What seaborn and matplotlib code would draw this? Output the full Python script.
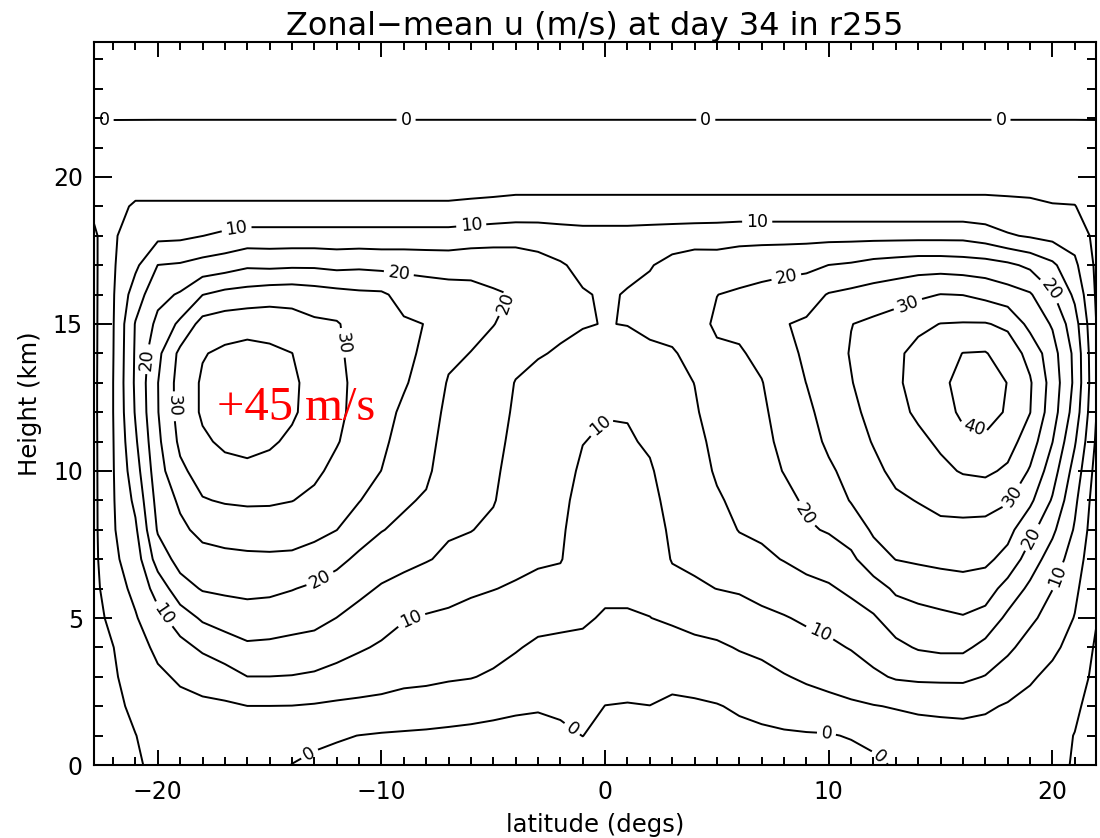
import numpy as np
import matplotlib
matplotlib.use("Agg")
import matplotlib.pyplot as plt
import seaborn as sns

# ---------------- data ----------------
latitudes = [-23, -22, -21, -20, -19, -18, -17, -16, -15, -14, -13, -12, -11, -10, -9, -8,
             -7, -6, -5, -4, -3, -2, -1, 0, 1, 2, 3, 4, 5, 6, 7, 8, 9, 10, 11, 12, 13, 14,
             15, 16, 17, 18, 19, 20, 21, 22]
heights_km = [0, 1, 2, 3, 4, 5, 6, 7, 8, 9, 10, 11, 12, 13, 14, 15, 16, 17, 18, 19, 20,
              21, 22, 23, 24.5]

u_z00 = [-2.0, -2.0, -0.8, 1.5, 2.5, 3.0, 2.5, 2.0, 1.5, -0.1, -1.0, -1.3, -1.5, -1.7, -1.8, -1.9, -2.0, -2.1, -2.2, -2.3, -2.3, -2.0, -2.0, -2.8, -2.8, -2.7, -2.8, -2.6, -2.5, -2.3, -2.1, -2.0, -2.0, -1.9, -1.8, -1.0, 0.5, 1.5, 2.0, 2.0, 2.0, 1.8, 1.5, 1.0, -0.3, -2.5]
u_z01 = [-2.0, -1.8, -0.1, 2.0, 3.0, 3.6, 3.8, 3.5, 3.3, 2.3, 1.1, 0.4, -0.05, -0.4, -0.6, -0.8, -1.0, -1.2, -1.4, -1.5, -1.5, -0.9, 0.05, -1.4, -1.5, -1.3, -1.8, -1.6, -1.2, -1.0, -0.7, -0.5, -0.4, -0.3, 0.3, 1.3, 2.5, 3.0, 3.3, 3.4, 3.4, 3.2, 2.5, 1.8, -0.15, -2.5]
u_z02 = [-2.0, -1.3, 1.1, 2.9, 3.8, 4.1, 4.3, 4.95, 4.95, 4.9, 4.6, 4.2, 4.0, 3.75, 3.3, 3.0, 2.4, 1.9, 1.3, 0.7, 0.4, 0.8, 1.4, -0.05, -0.2, -0.05, -0.8, -0.6, -0.2, 0.5, 1.1, 1.9, 2.9, 3.5, 4.3, 4.8, 5.3, 5.8, 6.0, 6.2, 5.6, 4.6, 3.8, 2.6, 1.0, -2.5]
u_z03 = [-2.0, -0.6, 2.1, 4.2, 5.6, 6.8, 8.0, 9.95, 9.95, 9.8, 9.3, 8.3, 7.4, 6.8, 6.1, 5.9, 5.5, 5.2, 4.4, 3.2, 2.2, 2.5, 2.9, 1.6, 1.4, 1.7, 1.2, 1.6, 2.0, 2.9, 3.5, 4.7, 5.7, 6.6, 7.3, 9.1, 10.5, 10.9, 11.0, 11.0, 9.8, 7.5, 5.5, 4.0, 2.5, -1.5]
u_z04 = [-2.0, -0.1, 3.1, 6.0, 8.5, 10.8, 12.6, 14.2, 14.0, 13.5, 13.1, 11.9, 10.55, 9.4, 8.2, 7.7, 7.4, 7.0, 6.5, 5.4, 4.1, 4.2, 4.3, 3.1, 3.0, 3.3, 3.3, 4.0, 4.3, 5.3, 6.1, 7.3, 8.3, 9.0, 10.3, 12.0, 13.9, 15.4, 16.0, 16.0, 13.6, 11.0, 8.0, 5.8, 3.6, -0.8]
u_z05 = [-2.0, 1.2, 4.6, 8.5, 12.5, 15.7, 17.1, 17.9, 17.6, 17.0, 16.4, 14.95, 13.3, 11.9, 10.3, 9.6, 9.2, 8.7, 8.3, 7.6, 6.6, 5.8, 5.4, 4.7, 4.7, 4.95, 5.6, 6.3, 7.1, 7.9, 8.8, 9.7, 10.7, 11.7, 12.9, 14.5, 17.3, 18.3, 18.9, 19.6, 18.2, 14.0, 11.0, 8.0, 4.8, 0.1]
u_z06 = [-2.0, 2.8, 6.2, 12.0, 18.0, 20.4, 20.9, 21.2, 21.0, 20.2, 19.2, 17.9, 16.2, 14.5, 13.4, 12.4, 11.5, 10.6, 10.1, 9.6, 8.75, 8.1, 6.2, 5.6, 5.6, 5.9, 8.3, 9.4, 10.05, 10.5, 11.7, 12.5, 13.6, 14.4, 16.0, 17.9, 20.8, 21.8, 22.7, 23.3, 22.5, 18.0, 14.0, 10.1, 6.0, 0.5]
u_z07 = [-2.0, 4.0, 7.5, 17.2, 21.8, 23.3, 23.8, 24.1, 24.2, 24.1, 23.0, 21.2, 19.1, 17.4, 16.3, 15.3, 14.2, 13.0, 12.0, 11.0, 10.6, 10.3, 7.0, 6.3, 6.4, 6.8, 10.3, 10.8, 11.5, 12.9, 14.1, 15.2, 16.5, 17.5, 19.0, 22.9, 25.1, 25.7, 26.1, 26.3, 26.0, 23.5, 17.5, 12.7, 7.6, 1.0]
u_z08 = [-2.0, 4.5, 9.2, 20.5, 24.0, 26.3, 27.0, 27.3, 27.4, 27.1, 26.4, 25.05, 22.2, 20.2, 18.9, 17.3, 15.5, 15.15, 14.0, 12.0, 11.0, 10.7, 7.7, 7.1, 7.2, 7.7, 10.9, 11.4, 13.0, 15.2, 15.8, 16.8, 19.4, 20.4, 22.2, 25.7, 27.1, 28.0, 28.5, 28.8, 28.5, 26.5, 21.5, 16.0, 9.5, 1.5]
u_z09 = [-2.0, 4.6, 11.1, 21.8, 25.8, 29.7, 30.4, 30.7, 30.6, 30.1, 29.0, 26.9, 25.2, 22.6, 20.7, 19.4, 16.3, 15.8, 15.3, 12.7, 11.5, 11.1, 8.5, 7.9, 8.0, 8.6, 11.6, 12.6, 14.5, 16.0, 17.1, 18.5, 20.8, 22.3, 25.3, 27.2, 29.2, 30.2, 31.7, 31.7, 31.8, 30.5, 26.0, 19.5, 11.0, 2.0]
u_z10 = [-2.0, 4.7, 12.9, 23.0, 29.0, 32.0, 33.6, 34.0, 33.5, 32.1, 30.9, 28.8, 27.0, 24.95, 21.9, 21.0, 17.1, 16.4, 15.8, 13.3, 12.0, 11.6, 9.3, 8.6, 8.8, 9.5, 12.2, 13.2, 15.5, 16.8, 18.0, 20.2, 21.9, 24.2, 26.6, 28.8, 31.2, 32.1, 33.9, 35.4, 35.9, 34.2, 29.5, 22.3, 13.0, 2.8]
u_z11 = [-2.0, 4.8, 14.3, 24.0, 31.0, 34.3, 35.8, 36.3, 35.6, 34.2, 32.3, 30.3, 28.0, 26.0, 23.1, 21.8, 17.9, 17.0, 16.3, 13.9, 12.5, 12.2, 10.1, 9.4, 9.5, 10.6, 12.9, 13.8, 16.1, 17.4, 18.6, 21.2, 22.9, 25.9, 27.8, 30.3, 32.6, 33.9, 35.8, 38.2, 38.8, 37.0, 32.5, 25.1, 15.5, 3.8]
u_z12 = [-2.0, 4.95, 15.4, 24.8, 32.0, 35.6, 37.2, 38.2, 37.3, 35.6, 33.3, 31.0, 28.6, 26.4, 24.3, 22.6, 18.7, 17.7, 16.8, 14.4, 13.1, 12.9, 11.4, 10.2, 10.3, 11.8, 13.2, 14.6, 16.6, 18.0, 19.1, 22.1, 24.0, 26.8, 28.9, 31.4, 33.6, 35.8, 37.2, 41.3, 42.5, 39.3, 35.1, 27.3, 17.8, 4.6]
u_z13 = [-2.0, 4.95, 15.8, 24.9, 32.0, 35.6, 37.3, 38.3, 37.5, 35.8, 33.4, 31.1, 28.8, 26.8, 25.4, 23.4, 19.6, 18.6, 17.6, 14.8, 13.8, 13.7, 12.7, 12.0, 12.1, 13.0, 13.8, 15.05, 17.8, 18.7, 19.8, 22.9, 25.05, 27.5, 29.8, 32.2, 34.2, 36.8, 38.3, 42.5, 43.8, 39.8, 35.5, 28.0, 19.0, 5.1]
u_z14 = [-2.0, 4.8, 15.6, 23.8, 31.2, 34.7, 35.9, 36.5, 36.0, 35.05, 32.5, 30.7, 28.6, 27.0, 26.0, 24.2, 21.0, 19.9, 18.8, 16.5, 15.3, 14.6, 14.0, 13.4, 13.6, 14.3, 14.5, 16.6, 19.3, 19.5, 21.2, 23.7, 25.7, 27.8, 30.3, 32.5, 34.2, 36.3, 38.0, 40.1, 40.3, 37.6, 33.5, 27.0, 18.8, 4.8]
u_z15 = [-2.0, 4.7, 15.3, 21.2, 26.0, 31.8, 32.8, 33.3, 33.0, 32.1, 30.8, 30.4, 28.0, 26.6, 25.6, 24.9, 22.8, 21.3, 20.1, 18.8, 17.0, 15.8, 15.2, 14.9, 15.1, 15.8, 16.8, 18.6, 20.6, 21.1, 22.8, 24.8, 25.6, 27.2, 29.9, 31.0, 32.2, 34.0, 35.1, 35.3, 35.3, 34.1, 28.5, 24.5, 17.0, 4.5]
u_z16 = [-2.0, 4.6, 12.5, 18.6, 20.5, 24.9, 26.5, 27.1, 27.9, 28.1, 27.4, 26.7, 26.0, 25.8, 23.3, 22.6, 22.0, 21.4, 20.5, 19.8, 17.8, 16.0, 15.3, 14.6, 15.2, 16.2, 17.8, 19.6, 19.95, 20.7, 21.5, 22.5, 23.1, 25.3, 26.2, 27.1, 28.0, 29.1, 30.1, 29.9, 28.7, 27.1, 25.5, 20.5, 14.0, 4.0]
u_z17 = [-2.0, 4.5, 9.0, 15.05, 15.5, 16.8, 17.7, 19.2, 18.9, 19.2, 19.2, 18.6, 19.0, 18.6, 18.6, 18.3, 18.1, 18.5, 18.2, 17.6, 16.5, 15.4, 14.0, 13.8, 14.3, 14.7, 16.4, 17.4, 17.1, 17.5, 18.0, 18.3, 18.8, 20.05, 20.6, 21.7, 22.3, 22.9, 22.9, 22.5, 22.1, 21.0, 19.0, 16.0, 11.0, 3.8]
u_z18 = [-2.0, 4.5, 7.0, 8.8, 9.0, 9.95, 11.0, 11.9, 11.9, 11.9, 11.9, 11.9, 11.9, 11.9, 11.9, 11.9, 11.9, 12.4, 12.9, 13.3, 13.2, 12.5, 12.0, 12.0, 12.0, 12.3, 12.6, 12.9, 13.1, 13.6, 13.6, 13.6, 13.6, 13.6, 13.6, 13.6, 13.6, 13.6, 13.6, 13.6, 12.5, 10.5, 9.5, 8.5, 8.0, 3.5]
u_z19 = [0.5, 4.0, 5.4, 5.4, 5.4, 5.4, 5.4, 5.4, 5.4, 5.4, 5.4, 5.4, 5.4, 5.4, 5.4, 5.4, 5.4, 5.6, 5.8, 6.1, 6.1, 6.1, 6.1, 6.1, 6.1, 6.1, 6.1, 6.1, 6.1, 6.1, 6.1, 6.1, 6.1, 6.1, 6.1, 6.1, 6.1, 6.1, 6.1, 6.1, 6.1, 5.9, 5.7, 5.2, 5.1, 3.3]
u_z20 = [2.0, 3.0, 3.3, 3.3, 3.3, 3.3, 3.3, 3.3, 3.3, 3.3, 3.3, 3.3, 3.3, 3.3, 3.3, 3.3, 3.3, 3.3, 3.3, 3.3, 3.3, 3.3, 3.3, 3.3, 3.3, 3.3, 3.3, 3.3, 3.3, 3.3, 3.3, 3.3, 3.3, 3.3, 3.3, 3.3, 3.3, 3.3, 3.3, 3.3, 3.3, 3.3, 3.3, 3.3, 3.3, 2.8]
u_z21 = [1.5, 1.5, 1.6, 1.7, 1.7, 1.7, 1.7, 1.7, 1.7, 1.7, 1.7, 1.7, 1.7, 1.7, 1.7, 1.7, 1.7, 1.7, 1.7, 1.7, 1.7, 1.7, 1.7, 1.7, 1.7, 1.7, 1.7, 1.7, 1.7, 1.7, 1.7, 1.7, 1.7, 1.7, 1.7, 1.7, 1.7, 1.7, 1.7, 1.7, 1.7, 1.7, 1.7, 1.7, 1.7, 1.5]
u_z22 = [-0.1, -0.1, -0.1, -0.1, -0.1, -0.1, -0.1, -0.1, -0.1, -0.1, -0.1, -0.1, -0.1, -0.1, -0.1, -0.1, -0.1, -0.1, -0.1, -0.1, -0.1, -0.1, -0.1, -0.1, -0.1, -0.1, -0.1, -0.1, -0.1, -0.1, -0.1, -0.1, -0.1, -0.1, -0.1, -0.1, -0.1, -0.1, -0.1, -0.1, -0.1, -0.1, -0.1, -0.1, -0.1, -0.1]
u_z23 = [-1.5, -1.5, -1.4, -1.4, -1.4, -1.4, -1.4, -1.4, -1.4, -1.4, -1.4, -1.4, -1.4, -1.4, -1.4, -1.4, -1.4, -1.4, -1.4, -1.4, -1.4, -1.4, -1.4, -1.4, -1.4, -1.4, -1.4, -1.4, -1.4, -1.4, -1.4, -1.4, -1.4, -1.4, -1.4, -1.4, -1.4, -1.4, -1.4, -1.4, -1.4, -1.4, -1.4, -1.4, -1.4, -1.5]
u_z24p5 = [-3.0, -3.0, -3.0, -3.0, -3.0, -3.0, -3.0, -3.0, -3.0, -3.0, -3.0, -3.0, -3.0, -3.0, -3.0, -3.0, -3.0, -3.0, -3.0, -3.0, -3.0, -3.0, -3.0, -3.0, -3.0, -3.0, -3.0, -3.0, -3.0, -3.0, -3.0, -3.0, -3.0, -3.0, -3.0, -3.0, -3.0, -3.0, -3.0, -3.0, -3.0, -3.0, -3.0, -3.0, -3.0, -3.0]

unlabelled_levels = [5, 15, 25, 35]
labelled_levels = [0, 10, 20, 30, 40]
x_ticks = [-20, -10, 0, 10, 20]
y_ticks = [0, 5, 10, 15, 20]

title_text = "Zonal\u2212mean u (m/s) at day 34 in r255"
x_label = "latitude (degs)"
y_label = "Height (km)"
note_text = "+45 m/s"

# ---------------- figure ----------------
sns.set_theme(style="ticks")
plt.rcParams["font.family"] = ["DejaVu Sans"]
plt.rcParams["axes.unicode_minus"] = True

rows = [u_z00, u_z01, u_z02, u_z03, u_z04, u_z05, u_z06, u_z07, u_z08, u_z09, u_z10,
        u_z11, u_z12, u_z13, u_z14, u_z15, u_z16, u_z17, u_z18, u_z19, u_z20, u_z21,
        u_z22, u_z23, u_z24p5]
U = np.array(rows, dtype=float)
LAT, Z = np.meshgrid(np.array(latitudes, dtype=float), np.array(heights_km, dtype=float))

fig = plt.figure(figsize=(11, 8.38), dpi=100)
fig.patch.set_facecolor("white")
ax = fig.add_axes([0.0855, 0.0871, 0.9109, 0.8631])
ax.set_facecolor("white")

ax.contour(LAT, Z, U, levels=unlabelled_levels, colors="black",
           linewidths=1.4, linestyles="solid")
cs = ax.contour(LAT, Z, U, levels=labelled_levels, colors="black",
                linewidths=1.4, linestyles="solid")

label_spots = [
    (-22.4, 22.0), (-8.9, 22.0), (4.5, 22.0), (17.7, 22.0),
    (-13.5, 0.75), (-1.6, 1.1), (9.9, 1.1), (12.3, 0.3),
    (-16.5, 18.35), (-6.0, 18.5), (6.8, 18.5),
    (-19.6, 5.2), (-8.7, 5.0), (9.6, 4.5), (20.3, 6.4), (-0.4, 11.7),
    (-9.2, 16.85), (-4.1, 15.6), (8.1, 16.6), (19.8, 16.05), (-20.4, 13.8),
    (-12.8, 6.4), (19.3, 7.65), (8.6, 8.4),
    (-19.5, 12.2), (-11.3, 14.4), (13.5, 15.75), (18.3, 9.1),
    (16.5, 11.5),
]
ax.clabel(cs, inline=True, fontsize=12.5, fmt="%d", manual=label_spots, inline_spacing=4)

ax.text(-17.36, 11.73, note_text, color="red", fontsize=35,
        family=["Liberation Serif", "DejaVu Serif"], ha="left", va="baseline")

ax.set_xlim(-22.85, 21.95)
ax.set_ylim(0, 24.6)
ax.set_xticks(x_ticks)
ax.set_yticks(y_ticks)
ax.set_xticks(np.arange(-22, 22, 1), minor=True)
ax.set_yticks(np.arange(0, 25, 1), minor=True)

ax.tick_params(axis="both", which="both", direction="in", top=True, right=True,
               colors="black", width=1.4)
ax.tick_params(axis="x", which="major", length=11, pad=11, labelsize=17)
ax.tick_params(axis="x", which="minor", length=6)
ax.tick_params(axis="y", which="major", length=13, pad=8, labelsize=17)
ax.tick_params(axis="y", which="minor", length=6.5)

for s in ax.spines.values():
    s.set_linewidth(1.5)
    s.set_color("black")

ax.set_title(title_text, fontsize=23, pad=1, color="black")
ax.set_xlabel(x_label, fontsize=17.5, labelpad=6, color="black")
ax.set_ylabel(y_label, fontsize=17.5, labelpad=8, color="black")
ax.grid(False)

fig.savefig("out.png", dpi=100, facecolor="white")
